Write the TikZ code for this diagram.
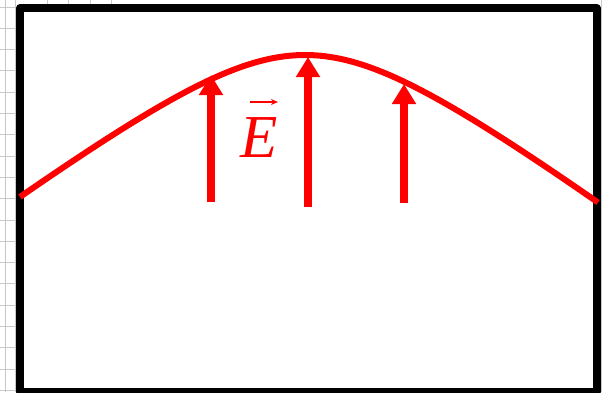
\documentclass[tikz,border=0pt]{standalone}
\usepackage{fontspec}
\setmainfont{Liberation Serif}
\usetikzlibrary{arrows.meta}
\definecolor{gridgray}{RGB}{200,200,200}
\definecolor{fieldred}{RGB}{255,0,0}
\tikzset{
  gridline/.style={draw=gridgray, line width=1pt},
  frame/.style={draw=black, line width=8pt, line join=round},
  wave/.style={draw=fieldred, line width=6pt},
  field/.style={draw=fieldred, line width=8pt, -{Triangle[width=23pt,length=20pt]}},
}
\begin{document}
\begin{tikzpicture}[x=1pt,y=-1pt]
\useasboundingbox (0,0) rectangle (613,392);
\fill[white] (0,0) rectangle (613,392);
% background grid fragments
\foreach \gy in {0,...,18} {
  \draw[gridline] (0,7+21.3*\gy) -- (18,7+21.3*\gy);
}
\draw[gridline] (5,0) -- (5,392);
\draw[gridline] (15,0) -- (15,392);
\foreach \gx in {2,...,5} {
  \draw[gridline] (5+21.3*\gx,0) -- (5+21.3*\gx,6);
}
\draw[gridline] (601.5,0) -- (601.5,392);
% frame
\draw[frame] (20,8) rectangle (596.5,391.5);
% wave
\draw[wave] plot[domain=20:598,samples=120,smooth] (\x,{55+90*(sqrt(1+((\x-305)/120)^2)-1)});
% field arrows
\coordinate (a1s) at (211,202);
\coordinate (a1e) at (211,75);
\coordinate (a2s) at (308,207);
\coordinate (a2e) at (308,57);
\coordinate (a3s) at (404,203);
\coordinate (a3e) at (404,84);
\draw[field] (a1s) -- (a1e);
\draw[field] (a2s) -- (a2e);
\draw[field] (a3s) -- (a3e);
% label
\node[anchor=base west, inner sep=0pt, text=fieldred, font=\fontsize{61}{61}\selectfont\itshape] (lab) at (240,157) {E};
\coordinate (v1) at (250,102);
\coordinate (v2) at (278,102);
\draw[fieldred, line width=1.4pt, -{Stealth[length=7pt,width=6pt]}] (v1) -- (v2);
\end{tikzpicture}
\end{document}
